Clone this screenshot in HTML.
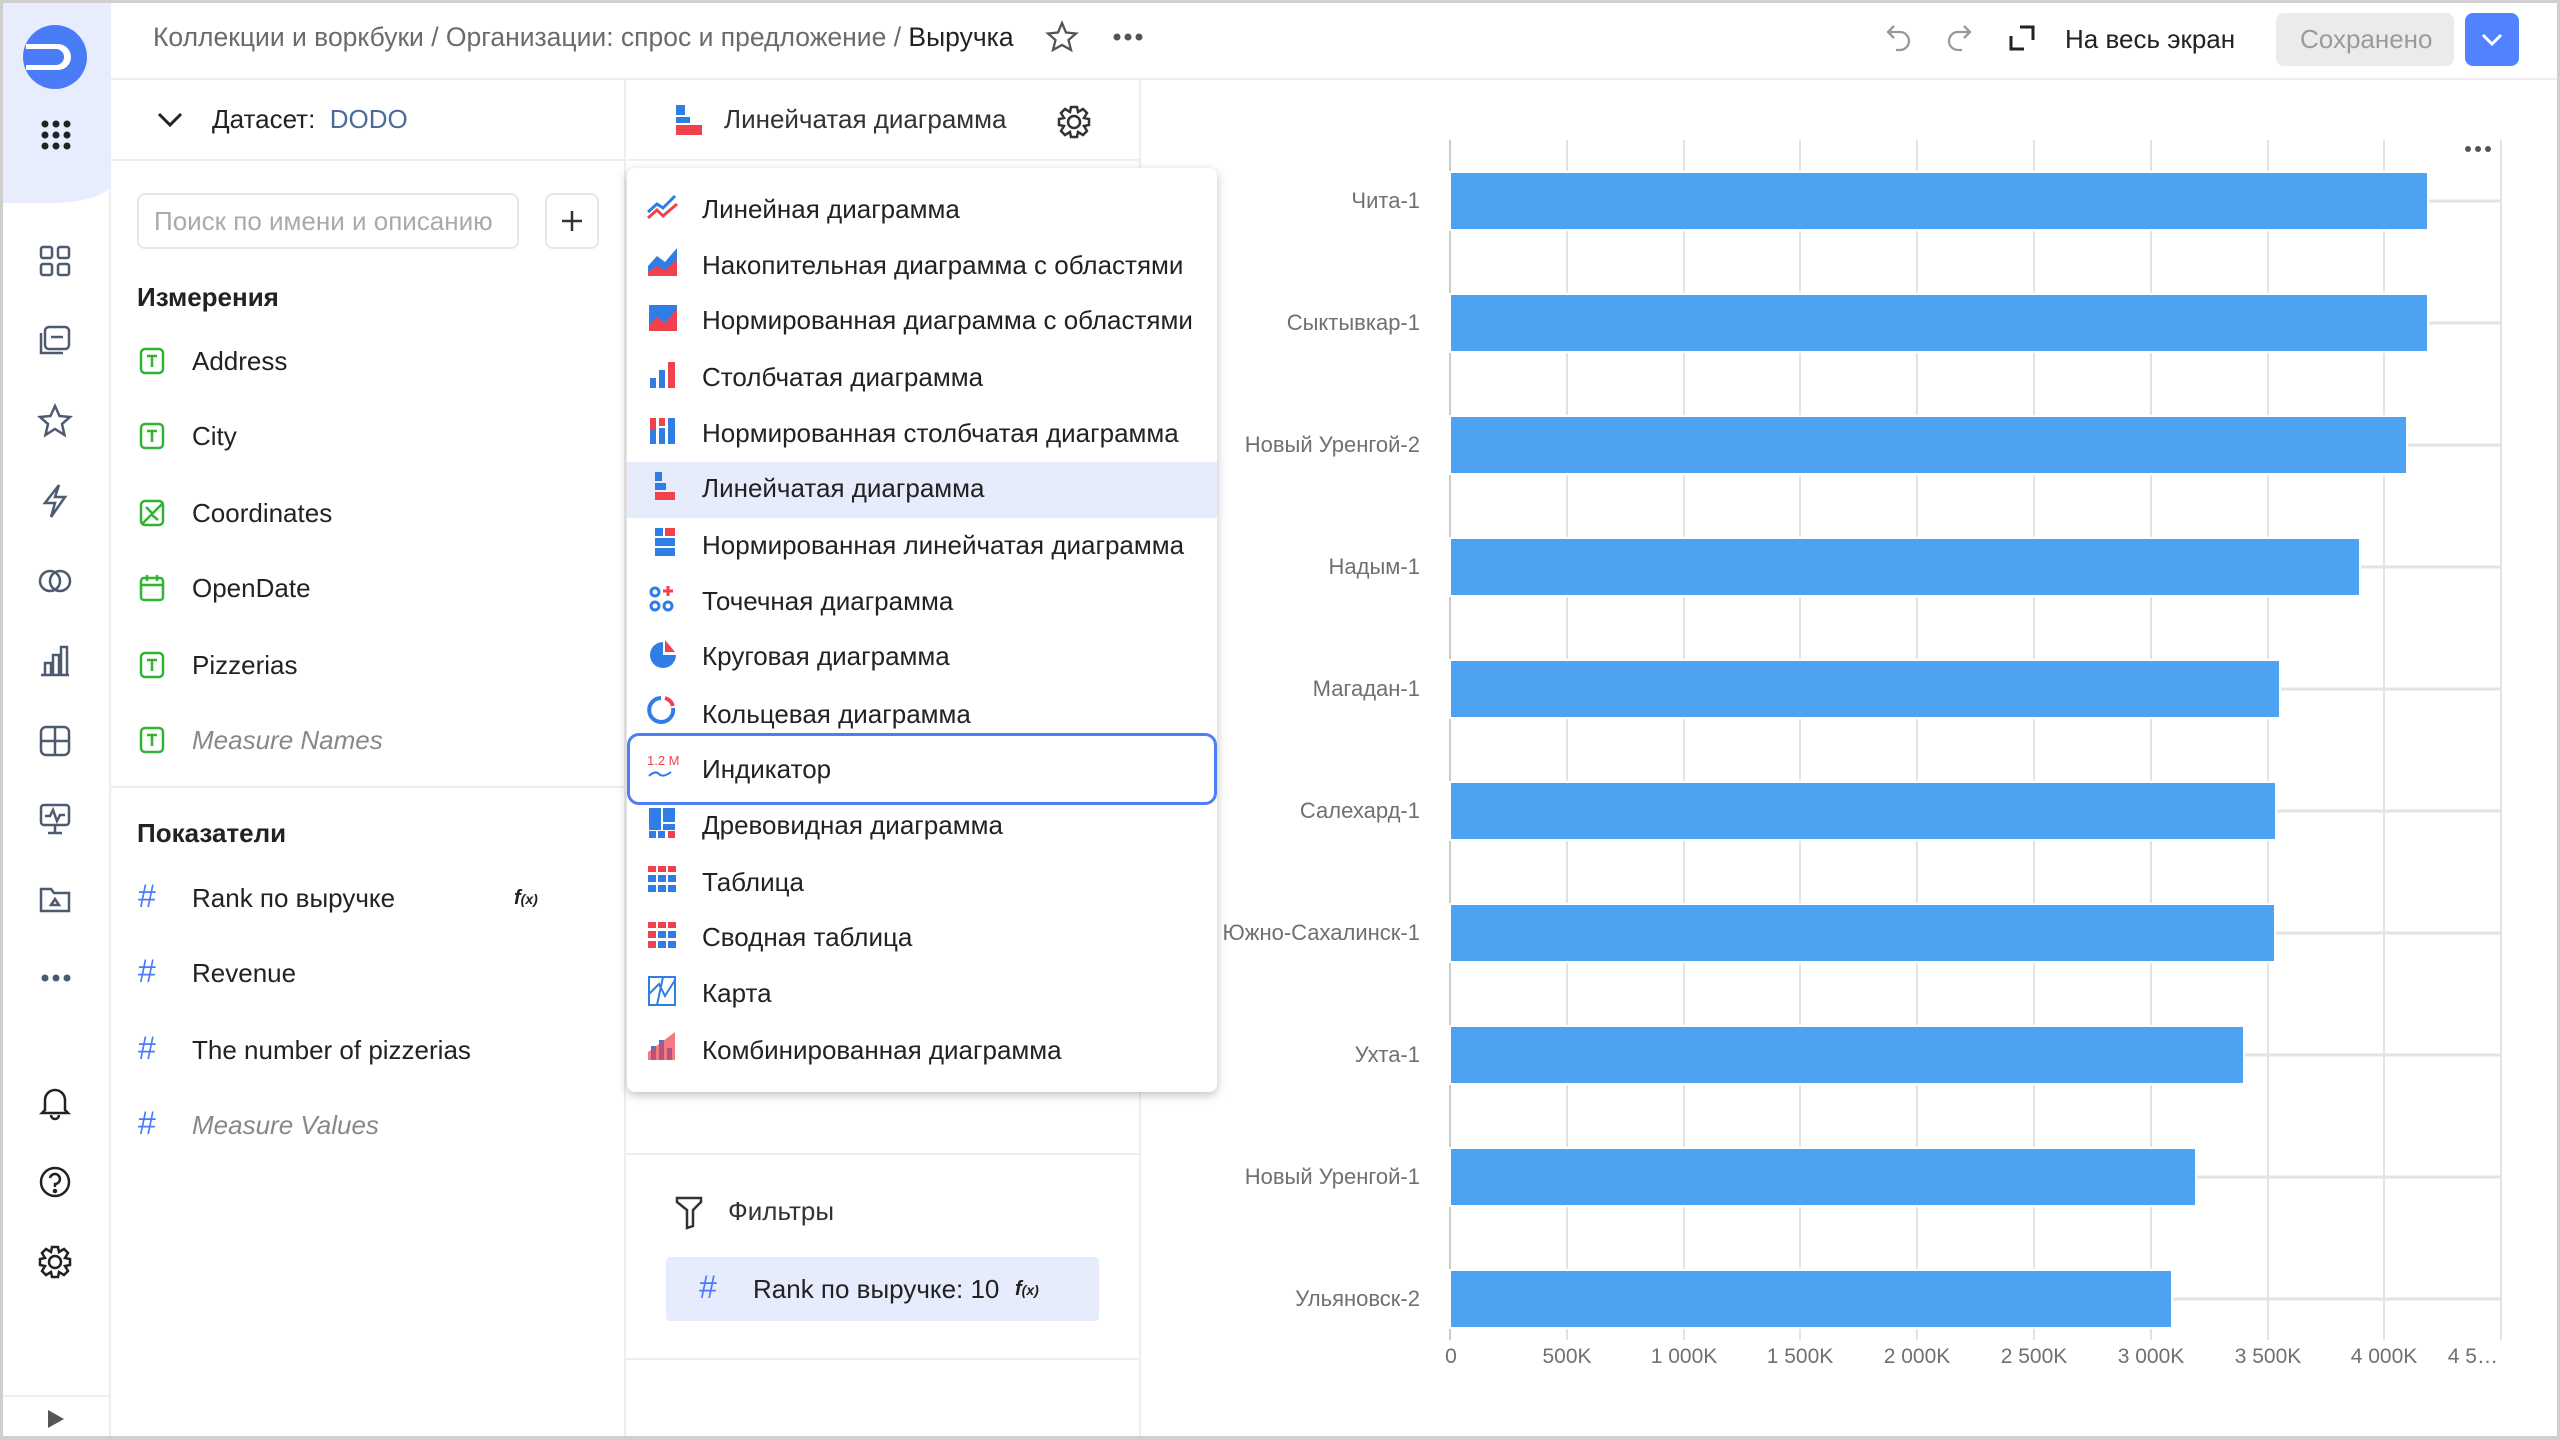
<!DOCTYPE html>
<html><head><meta charset="utf-8"><style>
*{margin:0;padding:0;box-sizing:border-box}
body{width:2560px;height:1440px;background:#fff;font-family:"Liberation Sans","Noto Sans CJK SC",sans-serif;position:relative;overflow:hidden;color:#222}
.a{position:absolute}
.t{position:absolute;white-space:nowrap;font-size:26px;line-height:30px}
.mi{position:absolute;left:702px;font-size:26px;white-space:nowrap;line-height:30px;z-index:6}
.dd{z-index:5}
</style></head><body>
<!-- outer border -->
<div class="a" style="left:0;top:0;width:2560px;height:1440px;border:3px solid #cfcfcf;border-bottom-width:4px;z-index:9;pointer-events:none"></div>
<!-- sidebar -->
<div class="a" style="left:3px;top:3px;width:108px;height:1433px;border-right:2px solid #eee"></div>
<div class="a" style="left:3px;top:3px;width:108px;height:200px;background:#e8edfd;border-bottom-right-radius:60px 20px"></div>
<svg class="a" style="left:20px;top:22px" width="70" height="70" viewBox="0 0 70 70"><circle cx="35" cy="35" r="32" fill="#4a7cf7"/><path d="M6 22 H38 A13 13 0 0 1 38 48 H6 Z" fill="#fff"/><path d="M6 27 H36 A8 8 0 0 1 36 43 H6 Z" fill="#4a7cf7"/></svg>
<svg class="a" style="left:40px;top:119px" width="32" height="32"><g fill="#222"><circle cx="5" cy="5" r="3.5"/><circle cx="16" cy="5" r="3.5"/><circle cx="27" cy="5" r="3.5"/><circle cx="5" cy="16" r="3.5"/><circle cx="16" cy="16" r="3.5"/><circle cx="27" cy="16" r="3.5"/><circle cx="5" cy="27" r="3.5"/><circle cx="16" cy="27" r="3.5"/><circle cx="27" cy="27" r="3.5"/></g></svg>
<svg class="a" style="left:37px;top:243px" width="36" height="1060" fill="none" stroke="#4d5a70" stroke-width="2.5">
<rect x="4" y="4" width="11" height="11" rx="2"/><rect x="21" y="4" width="11" height="11" rx="2"/><rect x="4" y="21" width="11" height="11" rx="2"/><rect x="21" y="21" width="11" height="11" rx="2"/>
<g transform="translate(0,80)"><rect x="8" y="4" width="24" height="22" rx="4"/><path d="M4 10 V30 H26"/><path d="M14 14 H26"/></g>
<g transform="translate(0,160)"><path d="M18 3 L22.5 13 L33 14 L25 21 L27.5 32 L18 26 L8.5 32 L11 21 L3 14 L13.5 13 Z"/></g>
<g transform="translate(0,240)"><path d="M22 2 L8 20 H18 L14 34 L28 14 H18 Z"/></g>
<g transform="translate(0,320)"><circle cx="13" cy="18" r="10"/><circle cx="23" cy="18" r="10"/></g>
<g transform="translate(0,400)"><path d="M4 32 H32 M8 32 V20 H14 V32 M16 32 V12 H22 V32 M24 32 V4 H30 V32"/></g>
<g transform="translate(0,480)"><rect x="4" y="4" width="28" height="28" rx="5"/><path d="M18 4 V32 M4 18 H32"/></g>
<g transform="translate(0,558)"><rect x="4" y="4" width="28" height="20" rx="3"/><path d="M18 24 V32 M11 32 H25 M8 15 H13 L16 9 L20 20 L23 14 H28"/></g>
<g transform="translate(0,638)"><path d="M4 8 H14 L17 12 H32 V30 H4 Z"/><path d="M14 24 L18 18 L22 24 Z"/></g>
</svg>
<svg class="a" style="left:40px;top:973px" width="32" height="10"><g fill="#4d5a70"><circle cx="5" cy="5" r="3.5"/><circle cx="16" cy="5" r="3.5"/><circle cx="27" cy="5" r="3.5"/></g></svg>
<svg class="a" style="left:37px;top:1084px" width="36" height="200" fill="none" stroke="#222" stroke-width="2.5">
<path d="M8 26 V16 A10 10 0 0 1 28 16 V26 L31 29 H5 Z M14 31 A4 4 0 0 0 22 31"/>
<g transform="translate(0,80)"><circle cx="18" cy="18" r="14"/><path d="M13 14 A5 5 0 1 1 18 20 V23"/><circle cx="18" cy="27" r="1" fill="#222"/></g>
<g transform="translate(0,160)"><circle cx="18" cy="18" r="6"/><path d="M15 3 H21 L22 8 L27 5 L31 9 L28 14 L33 15 V21 L28 22 L31 27 L27 31 L22 28 L21 33 H15 L14 28 L9 31 L5 27 L8 22 L3 21 V15 L8 14 L5 9 L9 5 L14 8 Z"/></g>
</svg>
<div class="a" style="left:3px;top:1395px;width:108px;border-top:2px solid #eee"></div>
<svg class="a" style="left:46px;top:1408px" width="20" height="22"><path d="M2 2 L18 11 L2 20 Z" fill="#555"/></svg>

<!-- header -->
<div class="a" style="left:111px;top:78px;width:2446px;border-top:2px solid #eee"></div>
<div class="t" style="left:153px;top:22px;color:#6b6b6b;font-size:26.5px">Коллекции и воркбуки / Организации: спрос и предложение / <span style="color:#222">Выручка</span></div>
<svg class="a" style="left:1045px;top:20px" width="34" height="34" fill="none" stroke="#555" stroke-width="2.3"><path d="M17 3 L21 12.5 L31 13.5 L23.5 20 L26 30 L17 25 L8 30 L10.5 20 L3 13.5 L13 12.5 Z"/></svg>
<svg class="a" style="left:1112px;top:32px" width="32" height="10"><g fill="#555"><circle cx="5" cy="5" r="3.5"/><circle cx="16" cy="5" r="3.5"/><circle cx="27" cy="5" r="3.5"/></g></svg>
<svg class="a" style="left:1884px;top:22px" width="90" height="34" fill="none" stroke="#999" stroke-width="2.3"><path d="M10 4 L4 10 L10 16 M4 10 H16 A8 8 0 0 1 16 28 H12"/><path d="M80 4 L86 10 L80 16 M86 10 H74 A8 8 0 0 0 74 28 H78"/></svg>
<svg class="a" style="left:2008px;top:24px" width="28" height="28" fill="none" stroke="#222" stroke-width="3"><path d="M3 12 V25 H16 M12 3 H25 V16"/></svg>
<div class="t" style="left:2065px;top:24px;color:#222">На весь экран</div>
<div class="a" style="left:2276px;top:13px;width:178px;height:53px;background:#ebebeb;border-radius:8px"></div>
<div class="t" style="left:2300px;top:24px;color:#9a9a9a">Сохранено</div>
<div class="a" style="left:2465px;top:13px;width:54px;height:53px;background:#5282ff;border-radius:8px"></div>
<svg class="a" style="left:2480px;top:30px" width="24" height="20" fill="none" stroke="#fff" stroke-width="3"><path d="M3 5 L12 14 L21 5"/></svg>

<!-- panel 1 -->
<div class="a" style="left:624px;top:79px;height:1358px;border-left:2px solid #eee"></div>
<div class="a" style="left:111px;top:159px;width:1029px;border-top:2px solid #eee"></div>
<svg class="a" style="left:156px;top:110px" width="28" height="20" fill="none" stroke="#222" stroke-width="3"><path d="M3 4 L14 15 L25 4"/></svg>
<div class="t" style="left:212px;top:104px">Датасет:&nbsp; <span style="color:#4d6a99">DODO</span></div>
<div class="a" style="left:137px;top:193px;width:382px;height:56px;border:2px solid #e6e6e6;border-radius:8px"></div>
<div class="t" style="left:154px;top:206px;color:#aaa">Поиск по имени и описанию</div>
<div class="a" style="left:545px;top:193px;width:54px;height:56px;border:2px solid #e6e6e6;border-radius:8px"></div>
<svg class="a" style="left:560px;top:209px" width="24" height="24" stroke="#333" stroke-width="2.5"><path d="M12 2 V22 M2 12 H22"/></svg>
<div class="t" style="left:137px;top:282px;font-weight:bold">Измерения</div>
<svg class="a" style="left:138px;top:346px" width="30" height="420" fill="none" stroke="#32b333" stroke-width="2.5">
<rect x="3" y="3" width="22" height="24" rx="4"/><path d="M9 10 H19 M14 10 V21"/>
<g transform="translate(0,75)"><rect x="3" y="3" width="22" height="24" rx="4"/><path d="M9 10 H19 M14 10 V21"/></g>
<g transform="translate(0,152)"><rect x="3" y="3" width="22" height="24" rx="4"/><path d="M4 26 L24 6 M8 9 L14 15 M14 17 L20 22"/></g>
<g transform="translate(0,227)"><rect x="3" y="5" width="22" height="22" rx="3"/><path d="M3 12 H25 M9 2 V8 M19 2 V8"/></g>
<g transform="translate(0,304)"><rect x="3" y="3" width="22" height="24" rx="4"/><path d="M9 10 H19 M14 10 V21"/></g>
<g transform="translate(0,379)"><rect x="3" y="3" width="22" height="24" rx="4"/><path d="M9 10 H19 M14 10 V21"/></g>
</svg>
<div class="t" style="left:192px;top:346px">Address</div>
<div class="t" style="left:192px;top:421px">City</div>
<div class="t" style="left:192px;top:498px">Coordinates</div>
<div class="t" style="left:192px;top:573px">OpenDate</div>
<div class="t" style="left:192px;top:650px">Pizzerias</div>
<div class="t" style="left:192px;top:725px;color:#888;font-style:italic">Measure Names</div>
<div class="a" style="left:111px;top:786px;width:513px;border-top:2px solid #eee"></div>
<div class="t" style="left:137px;top:818px;font-weight:bold">Показатели</div>
<div class="t" style="left:138px;top:881px;color:#4a7cf7;font-size:32px">#</div>
<div class="t" style="left:138px;top:956px;color:#4a7cf7;font-size:32px">#</div>
<div class="t" style="left:138px;top:1033px;color:#4a7cf7;font-size:32px">#</div>
<div class="t" style="left:138px;top:1108px;color:#4a7cf7;font-size:32px">#</div>
<div class="t" style="left:192px;top:883px">Rank по выручке</div>
<div class="t" style="left:514px;top:883px;font-style:italic;font-weight:bold;font-size:20px">f<span style="font-size:14px">(x)</span></div>
<div class="t" style="left:192px;top:958px">Revenue</div>
<div class="t" style="left:192px;top:1035px">The number of pizzerias</div>
<div class="t" style="left:192px;top:1110px;color:#888;font-style:italic">Measure Values</div>

<!-- panel 2 -->
<div class="a" style="left:1139px;top:79px;height:1358px;border-left:2px solid #eee"></div>
<svg class="a" style="left:674px;top:103px" width="30" height="34"><rect x="2" y="2" width="9" height="10" fill="#2f7ee6"/><rect x="2" y="14" width="14" height="6" fill="#2f7ee6"/><rect x="2" y="22" width="26" height="10" fill="#f0424d"/></svg>
<div class="t" style="left:724px;top:104px;color:#333">Линейчатая диаграмма</div>
<svg class="a" style="left:1056px;top:104px" width="36" height="36" fill="none" stroke="#333" stroke-width="2.5"><circle cx="18" cy="18" r="6"/><path d="M15 3 H21 L22 8 L27 5 L31 9 L28 14 L33 15 V21 L28 22 L31 27 L27 31 L22 28 L21 33 H15 L14 28 L9 31 L5 27 L8 22 L3 21 V15 L8 14 L5 9 L9 5 L14 8 Z"/></svg>
<div class="a" style="left:625px;top:1153px;width:514px;border-top:2px solid #eee"></div>
<div class="a" style="left:625px;top:1358px;width:514px;border-top:2px solid #eee"></div>
<svg class="a" style="left:674px;top:1194px" width="30" height="36" fill="none" stroke="#333" stroke-width="2.5"><path d="M3 4 H27 L27 8 L19 16 V32 L13 34 V16 L3 8 Z"/></svg>
<div class="t" style="left:728px;top:1196px;color:#333">Фильтры</div>
<div class="a" style="left:666px;top:1257px;width:433px;height:64px;background:#e7ecfd;border-radius:4px"></div>
<div class="t" style="left:699px;top:1272px;color:#4a7cf7;font-size:32px">#</div>
<div class="t" style="left:753px;top:1274px">Rank по выручке: 10</div>
<div class="t" style="left:1015px;top:1274px;font-style:italic;font-weight:bold;font-size:20px">f<span style="font-size:14px">(x)</span></div>

<!-- chart -->
<svg class="a" style="left:0;top:0" width="2560" height="1440" font-family="Liberation Sans, sans-serif">
<g stroke="#e3e3e3" stroke-width="2">
<line x1="1450" y1="140" x2="1450" y2="1340" stroke="#ccc"/>
<line x1="1567" y1="140" x2="1567" y2="1340"/><line x1="1684" y1="140" x2="1684" y2="1340"/><line x1="1800" y1="140" x2="1800" y2="1340"/><line x1="1917" y1="140" x2="1917" y2="1340"/><line x1="2034" y1="140" x2="2034" y2="1340"/><line x1="2151" y1="140" x2="2151" y2="1340"/><line x1="2268" y1="140" x2="2268" y2="1340"/><line x1="2384" y1="140" x2="2384" y2="1340"/><line x1="2501" y1="140" x2="2501" y2="1340"/>
</g>
<g stroke="#e3e3e3" stroke-width="3">
<line x1="1450" x2="2501" y1="201" y2="201"/><line x1="1450" x2="2501" y1="323" y2="323"/><line x1="1450" x2="2501" y1="445" y2="445"/><line x1="1450" x2="2501" y1="567" y2="567"/><line x1="1450" x2="2501" y1="689" y2="689"/><line x1="1450" x2="2501" y1="811" y2="811"/><line x1="1450" x2="2501" y1="933" y2="933"/><line x1="1450" x2="2501" y1="1055" y2="1055"/><line x1="1450" x2="2501" y1="1177" y2="1177"/><line x1="1450" x2="2501" y1="1299" y2="1299"/>
</g>
<g fill="#4da2f1" stroke="#fff" stroke-width="2">
<rect x="1450" y="172" width="978" height="58"/><rect x="1450" y="294" width="978" height="58"/><rect x="1450" y="416" width="957" height="58"/><rect x="1450" y="538" width="910" height="58"/><rect x="1450" y="660" width="830" height="58"/><rect x="1450" y="782" width="826" height="58"/><rect x="1450" y="904" width="825" height="58"/><rect x="1450" y="1026" width="794" height="58"/><rect x="1450" y="1148" width="746" height="58"/><rect x="1450" y="1270" width="722" height="58"/>
</g>
<g fill="#707070" font-size="22" text-anchor="end">
<text x="1420" y="208">Чита-1</text><text x="1420" y="330">Сыктывкар-1</text><text x="1420" y="452">Новый Уренгой-2</text><text x="1420" y="574">Надым-1</text><text x="1420" y="696">Магадан-1</text><text x="1420" y="818">Салехард-1</text><text x="1420" y="940">Южно-Сахалинск-1</text><text x="1420" y="1062">Ухта-1</text><text x="1420" y="1184">Новый Уренгой-1</text><text x="1420" y="1306">Ульяновск-2</text>
</g>
<g fill="#707070" font-size="21" text-anchor="middle">
<text x="1451" y="1363">0</text><text x="1567" y="1363">500K</text><text x="1684" y="1363">1 000K</text><text x="1800" y="1363">1 500K</text><text x="1917" y="1363">2 000K</text><text x="2034" y="1363">2 500K</text><text x="2151" y="1363">3 000K</text><text x="2268" y="1363">3 500K</text><text x="2384" y="1363">4 000K</text><text x="2498" y="1363" text-anchor="end">4 5…</text>
</g>
<g fill="#555"><circle cx="2468" cy="149" r="3"/><circle cx="2478" cy="149" r="3"/><circle cx="2488" cy="149" r="3"/></g>
</svg>

<!-- dropdown -->
<div class="a dd" style="left:627px;top:168px;width:590px;height:924px;background:#fff;border-radius:8px;box-shadow:0 3px 10px rgba(0,0,0,.25)"></div>
<div class="a dd" style="left:627px;top:462px;width:590px;height:56px;background:#e7ecfd"></div>
<div class="a dd" style="left:627px;top:733px;width:590px;height:72px;border:3px solid #4f7df5;border-radius:12px"></div>
<svg class="a dd" style="left:645px;top:190px;z-index:6" width="46" height="880">
<g transform="translate(0,0)"><path d="M3 22 L12 14 L18 18 L30 6" stroke="#2f7ee6" stroke-width="3" fill="none"/><path d="M3 28 L12 20 L18 26 L32 14" stroke="#f0424d" stroke-width="3" fill="none"/></g>
<g transform="translate(0,56)"><path d="M3 30 L3 20 L12 10 L20 16 L32 2 V30 Z" fill="#2f7ee6"/><path d="M3 30 L3 26 L12 20 L20 24 L32 14 V30 Z" fill="#f0424d"/></g>
<g transform="translate(0,111)"><path d="M4 4 H32 V30 H4 Z" fill="#f0424d"/><path d="M4 4 H32 V8 L20 22 L12 16 L4 24 Z" fill="#2f7ee6"/></g>
<g transform="translate(0,168)"><rect x="5" y="20" width="6" height="10" fill="#2f7ee6"/><rect x="14" y="12" width="6" height="18" fill="#2f7ee6"/><rect x="23" y="4" width="7" height="26" fill="#f0424d"/></g>
<g transform="translate(0,224)"><rect x="5" y="4" width="6" height="26" fill="#f0424d"/><rect x="5" y="16" width="6" height="14" fill="#2f7ee6"/><rect x="14" y="4" width="6" height="8" fill="#f0424d"/><rect x="14" y="14" width="6" height="16" fill="#2f7ee6"/><rect x="23" y="4" width="7" height="26" fill="#2f7ee6"/></g>
<g transform="translate(0,280)"><rect x="10" y="2" width="7" height="9" fill="#2f7ee6"/><rect x="10" y="13" width="11" height="7" fill="#2f7ee6"/><rect x="10" y="22" width="20" height="8" fill="#f0424d"/></g>
<g transform="translate(0,336)"><rect x="10" y="2" width="8" height="8" fill="#2f7ee6"/><rect x="20" y="2" width="10" height="8" fill="#f0424d"/><rect x="10" y="12" width="20" height="8" fill="#2f7ee6"/><rect x="10" y="22" width="20" height="8" fill="#2f7ee6"/></g>
<g transform="translate(0,392)" fill="none" stroke="#2f7ee6" stroke-width="3"><circle cx="10" cy="10" r="4"/><circle cx="10" cy="24" r="4"/><circle cx="23" cy="24" r="4"/><path d="M23 4 V14 M18 9 H28" stroke="#f0424d"/></g>
<g transform="translate(0,448)"><path d="M18 4 A13 13 0 1 0 31 17 H18 Z" fill="#2f7ee6"/><path d="M20 2 L30 14 H20 Z" fill="#f0424d"/></g>
<g transform="translate(0,504)" fill="none" stroke-width="4"><path d="M16 4 A12 12 0 1 0 28 14" stroke="#2f7ee6"/><path d="M20 4 A12 12 0 0 1 28 12" stroke="#f0424d"/></g>
<g transform="translate(0,560)"><text x="2" y="15" font-size="13" fill="#f0424d" font-family="Liberation Sans">1.2 M</text><path d="M4 26 Q10 20 14 24 T26 22" stroke="#2f7ee6" stroke-width="2" fill="none"/></g>
<g transform="translate(0,616)"><rect x="4" y="2" width="12" height="22" fill="#2f7ee6"/><rect x="18" y="2" width="12" height="14" fill="#2f7ee6"/><rect x="4" y="25" width="7" height="7" fill="#2f7ee6"/><rect x="13" y="25" width="7" height="7" fill="#2f7ee6"/><rect x="18" y="18" width="12" height="6" fill="#2f7ee6"/><rect x="23" y="25" width="7" height="7" fill="#f0424d"/></g>
<g transform="translate(0,672)" fill="#2f7ee6"><rect x="3" y="4" width="8" height="6" fill="#f0424d"/><rect x="13" y="4" width="8" height="6" fill="#f0424d"/><rect x="23" y="4" width="8" height="6" fill="#f0424d"/><rect x="3" y="13" width="8" height="7"/><rect x="13" y="13" width="8" height="7"/><rect x="23" y="13" width="8" height="7"/><rect x="3" y="23" width="8" height="7"/><rect x="13" y="23" width="8" height="7"/><rect x="23" y="23" width="8" height="7"/></g>
<g transform="translate(0,728)" fill="#2f7ee6"><rect x="3" y="4" width="8" height="6" fill="#f0424d"/><rect x="13" y="4" width="8" height="6" fill="#f0424d"/><rect x="23" y="4" width="8" height="6" fill="#f0424d"/><rect x="3" y="13" width="8" height="7" fill="#f0424d"/><rect x="13" y="13" width="8" height="7"/><rect x="23" y="13" width="8" height="7"/><rect x="3" y="23" width="8" height="7" fill="#f0424d"/><rect x="13" y="23" width="8" height="7"/><rect x="23" y="23" width="8" height="7"/></g>
<g transform="translate(0,784)" fill="none" stroke="#2f7ee6" stroke-width="2"><rect x="4" y="3" width="26" height="28"/><path d="M4 20 L14 10 L20 22 L30 6 M18 3 L12 31"/></g>
<g transform="translate(0,840)"><rect x="6" y="16" width="5" height="14" fill="#2f7ee6"/><rect x="14" y="10" width="5" height="20" fill="#2f7ee6"/><rect x="22" y="18" width="5" height="12" fill="#2f7ee6"/><path d="M3 30 L3 22 L14 14 L30 2 V30 Z" fill="#f0424d" opacity=".7"/></g>
</svg>
<div class="mi" style="top:194px">Линейная диаграмма</div>
<div class="mi" style="top:250px">Накопительная диаграмма с областями</div>
<div class="mi" style="top:305px">Нормированная диаграмма с областями</div>
<div class="mi" style="top:362px">Столбчатая диаграмма</div>
<div class="mi" style="top:418px">Нормированная столбчатая диаграмма</div>
<div class="mi" style="top:473px">Линейчатая диаграмма</div>
<div class="mi" style="top:530px">Нормированная линейчатая диаграмма</div>
<div class="mi" style="top:586px">Точечная диаграмма</div>
<div class="mi" style="top:641px">Круговая диаграмма</div>
<div class="mi" style="top:699px">Кольцевая диаграмма</div>
<div class="mi" style="top:754px">Индикатор</div>
<div class="mi" style="top:810px">Древовидная диаграмма</div>
<div class="mi" style="top:867px">Таблица</div>
<div class="mi" style="top:922px">Сводная таблица</div>
<div class="mi" style="top:978px">Карта</div>
<div class="mi" style="top:1035px">Комбинированная диаграмма</div>
</body></html>
